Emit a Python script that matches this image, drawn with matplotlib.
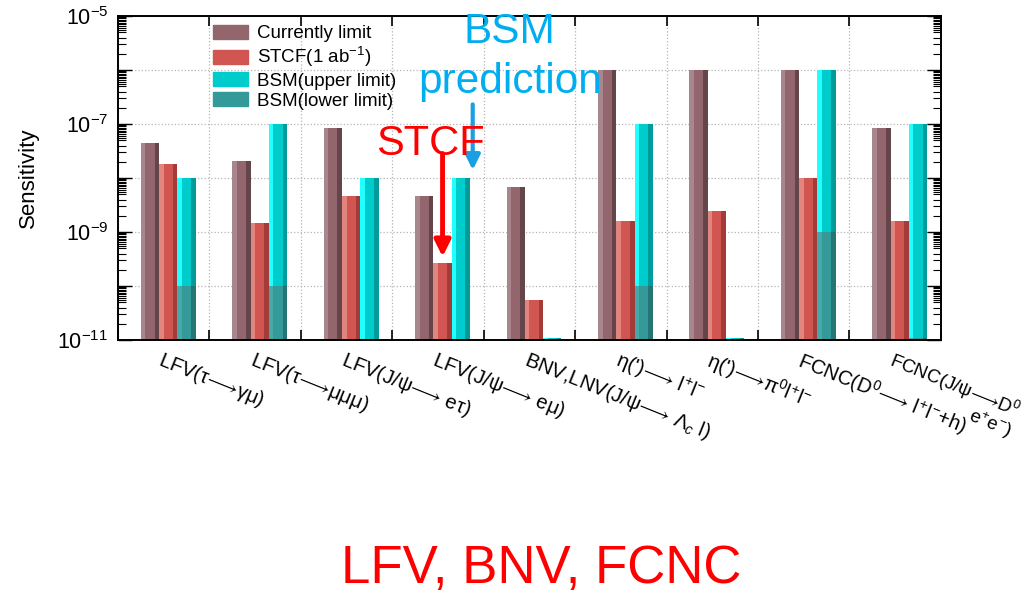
import numpy as np
import matplotlib
matplotlib.use("Agg")
import matplotlib.pyplot as plt
from matplotlib.patches import Patch
from matplotlib.ticker import FixedLocator, FuncFormatter, NullFormatter

plt.rcParams['font.family'] = ['Liberation Sans', 'DejaVu Sans']
plt.rcParams['mathtext.fontset'] = 'custom'
plt.rcParams['mathtext.rm'] = 'Liberation Sans'
plt.rcParams['mathtext.it'] = 'Liberation Sans:italic'
plt.rcParams['mathtext.bf'] = 'Liberation Sans:bold'
plt.rcParams['mathtext.fallback'] = 'stixsans'

# channels and sensitivities
channels = [
    r"LFV(τ$⟶$γμ)",
    r"LFV(τ$⟶$μμμ)",
    r"LFV(J/ψ$⟶$ eτ)",
    r"LFV(J/ψ$⟶$ eμ)",
    r"BNV,LNV(J/ψ$⟶$ Λ$_{c}$ l)",
    r"η(')$⟶$ l$^{+}$l$^{-}$",
    r"η(')$⟶$π$^{0}$l$^{+}$l$^{-}$",
    r"FCNC(D$^{0}$$⟶$ l$^{+}$l$^{-}$+h)",
    r"FCNC(J/ψ$⟶$D$^{0}$" + "\n" + r"e$^{+}$e$^{-}$)",
]
current_limit = [4.4e-8, 2.1e-8, 8.3e-8, 4.7e-9, 6.9e-9, 1e-6, 1e-6, 1e-6, 8.5e-8]
stcf = [1.8e-8, 1.5e-9, 4.7e-9, 2.7e-10, 5.5e-11, 1.6e-9, 2.5e-9, 1e-8, 1.6e-9]
bsm_upper = [1e-8, 1e-7, 1e-8, 1e-8, 1.1e-11, 1e-7, 1.1e-11, 1e-6, 1e-7]
bsm_lower = [1e-10, 1e-10, np.nan, np.nan, np.nan, 1e-10, np.nan, 1e-9, 1.1e-11]

y_min, y_max = 1e-11, 1e-5
decades = [1e-11, 1e-10, 1e-9, 1e-8, 1e-7, 1e-6, 1e-5]

# (main, light edge, dark edge)
c_cur = ('#93666e', '#a8868d', '#644549')
c_stcf = ('#d15550', '#e2857f', '#a33c38')
c_up = ('#00cccc', '#22ffff', '#009c9c')
c_low = ('#339999', '#45a9a9', '#267575')

fig = plt.figure(figsize=(10.35, 5.93), dpi=100)
ax = fig.add_axes([0.114, 0.4266, 0.795, 0.5464])
ax.set_yscale('log')
ax.set_xlim(0, len(channels))
ax.set_ylim(y_min, y_max)

w = 0.2
edge = 0.25


def shaded_bar(x, top, cols):
    if np.isnan(top):
        return
    h = top - y_min
    ax.bar(x, h, w, bottom=y_min, color=cols[0], align='edge', zorder=2)
    ax.bar(x, h, w * edge, bottom=y_min, color=cols[1], align='edge', zorder=2)
    ax.bar(x + w * (1 - edge), h, w * edge, bottom=y_min, color=cols[2], align='edge', zorder=2)


for i in range(len(channels)):
    shaded_bar(i + 0.25, current_limit[i], c_cur)
    shaded_bar(i + 0.45, stcf[i], c_stcf)
    shaded_bar(i + 0.65, bsm_upper[i], c_up)
    shaded_bar(i + 0.65, bsm_lower[i], c_low)

handles = [Patch(color=c_cur[0]), Patch(color=c_stcf[0]), Patch(color=c_up[0]), Patch(color=c_low[0])]
labels = ['Currently limit', 'STCF(1 ab$^{-1}$)', 'BSM(upper limit)', 'BSM(lower limit)']
ax.legend(handles, labels, loc='upper left', bbox_to_anchor=(0.115, 0.972), frameon=False,
          fontsize=13.5, handlelength=1.9, handleheight=0.75, handletextpad=0.45,
          labelspacing=0.15, borderpad=0, borderaxespad=0)

# axes cosmetics
ax.set_axisbelow(True)
ax.xaxis.set_major_locator(FixedLocator(np.arange(0, len(channels) + 1)))
ax.xaxis.set_major_formatter(NullFormatter())
ax.set_xticks(np.arange(len(channels)) + 0.5, channels, minor=True)
ax.tick_params(axis='x', which='minor', length=0, pad=6, labelsize=14.5)
for lab in ax.get_xticklabels(minor=True):
    lab.set_rotation(-22)
    lab.set_ha('left')
    lab.set_va('top')
    lab.set_rotation_mode('anchor')
    lab.set_multialignment('right')
    lab.set_linespacing(0.95)
ax.get_xticklabels(minor=True)[-1].set_fontsize(13.5)
ax.tick_params(axis='x', which='major', direction='in', top=True, length=7, width=1.2)

ax.yaxis.set_major_locator(FixedLocator(decades))
ax.yaxis.set_minor_locator(FixedLocator(
    [m * d for d in decades[:-1] for m in [2, 3, 4, 5, 5.5, 6, 6.5, 7, 7.5, 8, 8.5, 9, 9.5]]))
ax.yaxis.set_major_formatter(FuncFormatter(
    lambda v, p: r'$10^{%d}$' % round(np.log10(v)) if round(np.log10(v)) % 2 else ''))
ax.yaxis.set_minor_formatter(NullFormatter())
ax.tick_params(axis='y', which='major', direction='in', right=True, length=10, width=1.0,
               labelsize=15.5, pad=7)
ax.tick_params(axis='y', which='minor', direction='in', right=True, length=6, width=0.8)
ax.grid(True, which='major', linestyle=':', color='#b5b5b5', linewidth=0.9)
for s in ax.spines.values():
    s.set_linewidth(1.4)

ax.set_ylabel('Sensitivity', fontsize=16)
ax.yaxis.set_label_coords(-0.096, 0.5)

# annotations
ax.text(0.476, 0.952, 'BSM', transform=ax.transAxes, ha='center', va='center',
        fontsize=30.5, color='#00aeef')
ax.text(0.476, 0.795, 'prediction', transform=ax.transAxes, ha='center', va='center',
        fontsize=30.5, color='#00aeef')
ax.annotate('', xy=(3.88, 1.25e-8), xytext=(3.88, 2.6e-7),
            arrowprops=dict(arrowstyle='-|>', color='#1aa0e2', lw=3, mutation_scale=22))
ax.text(0.380, 0.606, 'STCF', transform=ax.transAxes, ha='center', va='center',
        fontsize=30, color='red')
ax.annotate('', xy=(3.55, stcf[3] * 1.15), xytext=(3.55, 3.2e-8),
            arrowprops=dict(arrowstyle='-|>', color='red', lw=3.5, mutation_scale=24))

fig.text(0.523, 0.017, 'LFV, BNV, FCNC', ha='center', va='baseline', fontsize=38, color='red')

fig.savefig('out.png', dpi=100)
